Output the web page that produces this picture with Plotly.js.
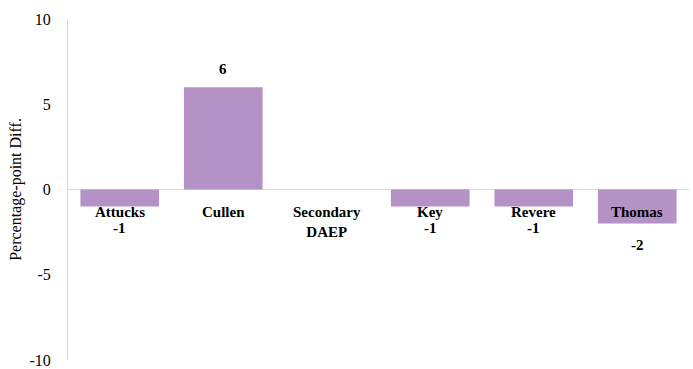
<!DOCTYPE html>
<html>
<head>
<meta charset="utf-8">
<script src="https://cdn.plot.ly/plotly-3.0.1.min.js"></script>
<style>html,body{margin:0;padding:0;background:#fff;}#chart{width:693px;height:369px;}</style>
</head>
<body>
<div id="chart"></div>
<script>
const categories = ["Attucks", "Cullen", "Secondary DAEP", "Key", "Revere", "Thomas"];
const categoryLabels = ["Attucks", "Cullen", "Secondary<br>DAEP", "Key", "Revere", "Thomas"];
const values = [-1, 6, 0, -1, -1, -2];
const valueLabels = ["-1", "6", "", "-1", "-1", "-2"];
const yTicks = [-10, -5, 0, 5, 10];

const FAMILY = "Liberation Serif";
const annotations = [];
categories.forEach((c, i) => {
  annotations.push({
    x: c, y: 0, xref: "x", yref: "y", text: "<b>" + categoryLabels[i] + "</b>",
    showarrow: false, yanchor: "top", yshift: -12,
    font: {family: FAMILY, size: 15, color: "#000000", lineposition: "none"}
  });
  if (valueLabels[i] !== "") {
    const v = values[i];
    annotations.push({
      x: c, y: v, xref: "x", yref: "y", text: "<b>" + valueLabels[i] + "</b>",
      showarrow: false, yanchor: v >= 0 ? "bottom" : "top", yshift: v >= 0 ? 8 : -11,
      font: {family: FAMILY, size: 15, color: "#000000"}
    });
  }
});

const trace = {
  type: "bar", x: categories, y: values,
  marker: {color: "#b592c5"}, hoverinfo: "none"
};

const layout = {
  width: 693, height: 369,
  margin: {l: 68, r: 4, t: 19, b: 9},
  paper_bgcolor: "#ffffff", plot_bgcolor: "#ffffff",
  showlegend: false, bargap: 0.24,
  font: {family: FAMILY, color: "#000000"},
  xaxis: {showticklabels: false, showgrid: false, zeroline: false, showline: false, ticks: ""},
  yaxis: {
    range: [-10, 10], tickvals: yTicks, ticktext: yTicks.map(String),
    showgrid: false, zeroline: true, zerolinecolor: "#d9d9d9", zerolinewidth: 1,
    showline: true, linecolor: "#d9d9d9", linewidth: 1, ticks: "",
    ticklabelstandoff: 13,
    tickfont: {family: FAMILY, size: 16, color: "#000000"},
    title: {text: "Percentage-point Diff.", font: {family: FAMILY, size: 16, color: "#000000"}, standoff: 3}
  },
  annotations: annotations
};

Plotly.newPlot("chart", [trace], layout, {staticPlot: true, displayModeBar: false});
</script>
</body>
</html>
